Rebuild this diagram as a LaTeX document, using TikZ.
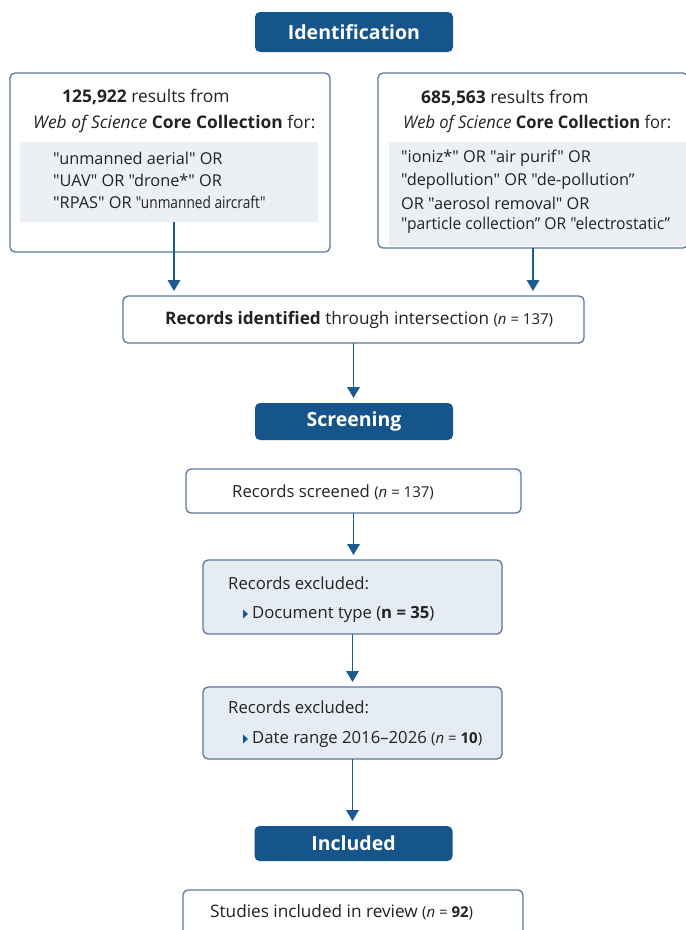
\documentclass[tikz,border=0pt]{standalone}
\usepackage{graphicx}
\usepackage{fontspec}
\setmainfont{Open Sans}[Ligatures=TeXOff]
\usetikzlibrary{arrows.meta}
\definecolor{hdr}{RGB}{22,85,140}
\definecolor{bord}{RGB}{92,120,156}
\definecolor{lfill}{RGB}{229,236,244}
\definecolor{gfill}{RGB}{236,239,243}
\definecolor{arr}{RGB}{30,90,145}
\definecolor{ink}{RGB}{34,34,34}
\newcommand\paren[1]{{\fontsize{15}{17}\selectfont(#1)}}
\begin{document}
\begin{tikzpicture}[x=1pt,y=-1pt,
  header/.style={fill=hdr, rounded corners=5pt, text=white, font=\bfseries\fontsize{19.5}{22}\selectfont, minimum width=198pt, inner sep=0pt, outer sep=0pt},
  box/.style={draw=bord, line width=1.3pt, rounded corners=5pt, fill=white, inner sep=0pt, outer sep=0pt},
  exbox/.style={box, fill=lfill},
  graybox/.style={fill=gfill, inner sep=0pt, outer sep=0pt},
  txt/.style={anchor=west, inner sep=0pt, text=ink, font=\fontsize{16.7}{19}\selectfont},
  qtxt/.style={txt, font=\fontsize{16.3}{19}\selectfont},
  bigtxt/.style={txt, font=\fontsize{17.4}{20}\selectfont},
  flow/.style={draw=arr, line width=1.8pt, -{Triangle[length=11pt,width=12.5pt]}, shorten >=5pt},
  bullet/.style={fill=hdr}
]
\useasboundingbox (0,0) rectangle (686,930);
\fill[white] (0,0) rectangle (686,930);

% headers
\node[header, minimum height=40pt] (hid) at (354,32) {Identification};
\node[header, minimum height=37pt] (hscr) at (354,421.5) {Screening};
\node[header, minimum height=35pt] (hinc) at (353.5,843.5) {Included};

% left search box
\node[box, minimum width=320pt, minimum height=179pt] (L) at (170,162.5) {};
\node[graybox, minimum width=298pt, minimum height=80pt] (lg) at (169,182) {};
\node[bigtxt] (l1) at (62,97) {\textbf{125,922} results from};
\node[bigtxt] (l2) at (33,124) {\textit{Web of Science} \textbf{Core Collection} for:};
\node[qtxt] (l3) at (53,158) {"unmanned aerial" OR};
\node[qtxt] (l4) at (53,180) {"UAV" OR "drone*" OR};
\node[qtxt] (l5) at (53,202) {"RPAS" OR \scalebox{0.84}[1]{"unmanned aircraft"}};

% right search box
\node[box, minimum width=310pt, minimum height=175pt] (R) at (533,160.5) {};
\node[graybox, minimum width=298pt, minimum height=104pt] (rg) at (538,194) {};
\node[bigtxt] (r1) at (421,98) {\textbf{685,563} results from};
\node[bigtxt] (r2) at (403,124) {\scalebox{0.95}[1]{\textit{Web of Science} \textbf{Core Collection} for:}};
\node[qtxt] (r3) at (401,158) {"ioniz*" OR "air purif" OR};
\node[qtxt] (r4) at (401,181) {"depollution" OR "de-pollution”};
\node[qtxt] (r5) at (401,203) {OR "aerosol removal" OR};
\node[qtxt] (r6) at (401,225) {\scalebox{0.96}[1]{"particle collection” OR "electrostatic”}};

% intersection
\node[box, minimum width=461pt, minimum height=47pt] (inter) at (353.5,319.5) {};
\node[txt, font=\fontsize{17.2}{20}\selectfont] (it) at (165,320) {\textbf{Records identified} through intersection \paren{\textit{n} = 137}};

% screening
\node[box, minimum width=335pt, minimum height=44pt] (scr) at (353.5,491) {};
\node[txt] (st) at (232,492) {Records screened \paren{\textit{n} = 137}};

\node[exbox, minimum width=299pt, minimum height=74pt] (ex1) at (352.5,597) {};
\node[txt] (e1a) at (228,583) {Records excluded:};
\fill[bullet] (243,609.5) -- (248,614) -- (243,618.5) -- cycle;
\node[txt] (e1b) at (252,614) {Document type (\textbf{n = 35})};

\node[exbox, minimum width=299pt, minimum height=72pt] (ex2) at (352.5,723) {};
\node[txt] (e2a) at (228,707) {Records excluded:};
\fill[bullet] (243,734.5) -- (248,739) -- (243,743.5) -- cycle;
\node[txt] (e2b) at (252,739) {Date range 2016–2026 \paren{\textit{n} = \textbf{10}}};

% included
\node[box, minimum width=340pt, minimum height=55pt] (inc) at (353,917.5) {};
\node[txt, font=\fontsize{17.2}{20}\selectfont] (incT) at (210,912) {Studies included in review \paren{\textit{n} = \textbf{92}}};

% connectors
\draw[flow] ([xshift=5pt]lg.south) -- ([xshift=5pt]lg.south |- inter.north);
\draw[flow] (R.south) -- (R.south |- inter.north);
\draw[flow] (inter.south) -- (inter.south |- hscr.north);
\draw[flow] (scr.south) -- (scr.south |- ex1.north);
\draw[flow] (ex1.south) -- (ex1.south |- ex2.north);
\draw[flow] (ex2.south) -- (ex2.south |- hinc.north);
\end{tikzpicture}
\end{document}
